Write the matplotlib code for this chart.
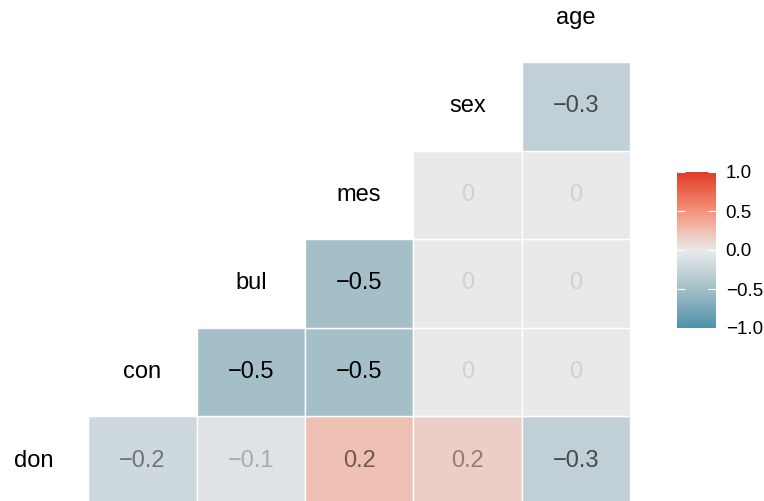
import matplotlib.pyplot as plt
import numpy as np
from matplotlib.colors import LinearSegmentedColormap, Normalize
from matplotlib.cm import ScalarMappable

plt.rcParams['font.family'] = ['Liberation Sans', 'DejaVu Sans']

variables = ["don", "con", "bul", "mes", "sex", "age"]

# correlations of each variable with the ones after it
corr_don = [-0.2, -0.08, 0.24, 0.16, -0.3]
corr_con = [-0.5, -0.5, 0.0, 0.0]
corr_bul = [-0.5, 0.0, 0.0]
corr_mes = [0.0, 0.0]
corr_sex = [-0.3]
upper_rows = [corr_don, corr_con, corr_bul, corr_mes, corr_sex]

colorbar_ticks = [-1.0, -0.5, 0.0, 0.5, 1.0]

cmap = LinearSegmentedColormap.from_list("ggcorr", [
    (0.0, (78/255, 145/255, 166/255)),
    (0.25, (165/255, 191/255, 201/255)),
    (0.5, (234/255, 234/255, 234/255)),
    (0.75, (244/255, 146/255, 122/255)),
    (1.0, (222/255, 60/255, 38/255)),
])
norm = Normalize(-1, 1)

n = len(variables)
fig = plt.figure(figsize=(7.64, 5.01), dpi=100)
ax = fig.add_axes([0, 0, 630/764, 1])

max_abs = max(abs(v) for row in upper_rows for v in row)
for i, row in enumerate(upper_rows):
    r = n - 1 - i          # row on screen (0 = top)
    for k, val in enumerate(row):
        c = i + 1 + k      # column of the partner variable
        ax.add_patch(plt.Rectangle((c - 0.5, r - 0.5), 1, 1,
                                   facecolor=cmap(norm(val)),
                                   edgecolor="white", linewidth=1.0))
        alpha = 0.1 + 0.9 * abs(val) / max_abs
        label = f"{val:.1f}".replace("-", "\u2212") if round(val, 1) != 0 else "0"
        ax.text(c, r, label, ha="center", va="center", fontsize=17,
                color="black", alpha=alpha)

for i, name in enumerate(variables):
    ax.text(i, n - 1 - i, name, ha="center", va="center",
            fontsize=17, color="black")

ax.set_xlim(-0.5 + 20/108.4, 5.5)
ax.set_ylim(0.5 + (501 - 62)/88.6, 0.5 - 62/88.6)
ax.axis("off")

cax = fig.add_axes([677/764, (501 - 328)/501, 39/764, 156/501])
cb = fig.colorbar(ScalarMappable(norm=norm, cmap=cmap), cax=cax,
                  ticks=colorbar_ticks)
cb.outline.set_visible(False)
cb.ax.set_yticklabels([f"{t:.1f}".replace("-", "\u2212") for t in colorbar_ticks])
cb.ax.tick_params(axis="y", direction="in", length=6, width=0.8,
                  colors="white", labelcolor="black", labelsize=13.5,
                  left=True, right=True, pad=7)

fig.savefig("out.png", dpi=100)
